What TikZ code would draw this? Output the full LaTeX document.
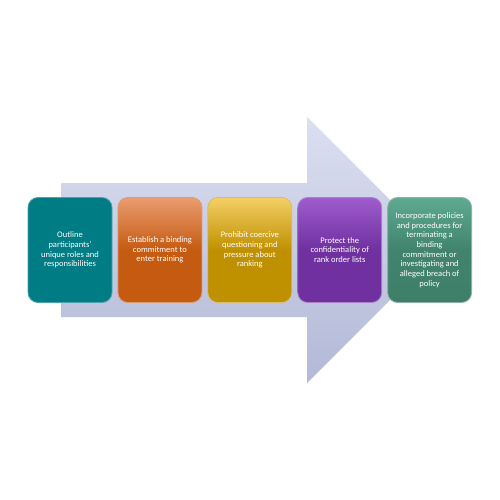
\documentclass[tikz,border=0pt]{standalone}
\usepackage{fontspec}
\setmainfont{Carlito}
\begin{document}
\begin{tikzpicture}[x=1pt,y=-1pt,
  stagebox/.style={rounded corners=10pt, minimum width=84pt, minimum height=105pt,
    align=center, inner sep=0pt, text=white,
    font=\fontsize{8.5}{9.7}\selectfont, line width=0.8pt},
  arrowshape/.style={top color=arrowtop, bottom color=arrowbot, draw=none}]
\definecolor{arrowtop}{HTML}{DADFF1}
\definecolor{arrowbot}{HTML}{B3B8D6}
\definecolor{tealc}{HTML}{007C85}
\definecolor{orangetop}{HTML}{EA9C70}
\definecolor{orangebot}{HTML}{C55A11}
\definecolor{yellowtop}{HTML}{F4D066}
\definecolor{yellowbot}{HTML}{BF9000}
\definecolor{purpletop}{HTML}{9E5CCD}
\definecolor{purplebot}{HTML}{7030A0}
\definecolor{greentop}{HTML}{5FAA92}
\definecolor{greenbot}{HTML}{3E7F69}
\useasboundingbox (0,0) rectangle (500,500);
\fill[white] (0,0) rectangle (500,500);
\path[arrowshape] (61,183) -- (307,183) -- (307,117) -- (440,250) -- (307,383) -- (307,317) -- (61,317) -- cycle;
\node[stagebox, fill=tealc, draw=tealc!70!white] (b1) at (70,250)
  {Outline\\participants’\\unique roles and\\responsibilities};
\node[stagebox, top color=orangetop, bottom color=orangebot, middle color=orangebot, draw=orangebot!60!white] (b2) at (159.9,250)
  {Establish a binding\\commitment to\\enter training};
\node[stagebox, top color=yellowtop, bottom color=yellowbot, middle color=yellowbot, draw=yellowbot!60!white] (b3) at (249.8,250)
  {Prohibit coercive\\questioning and\\pressure about\\ranking};
\node[stagebox, top color=purpletop, bottom color=purplebot, middle color=purplebot, draw=purplebot!60!white] (b4) at (339.7,250)
  {Protect the\\confidentiality of\\rank order lists};
\node[stagebox, top color=greentop, bottom color=greenbot, middle color=greenbot!90!greentop, draw=greenbot!60!white] (b5) at (429.6,250)
  {Incorporate policies\\and procedures for\\terminating a\\binding\\commitment or\\investigating and\\alleged breach of\\policy};
\end{tikzpicture}
\end{document}
